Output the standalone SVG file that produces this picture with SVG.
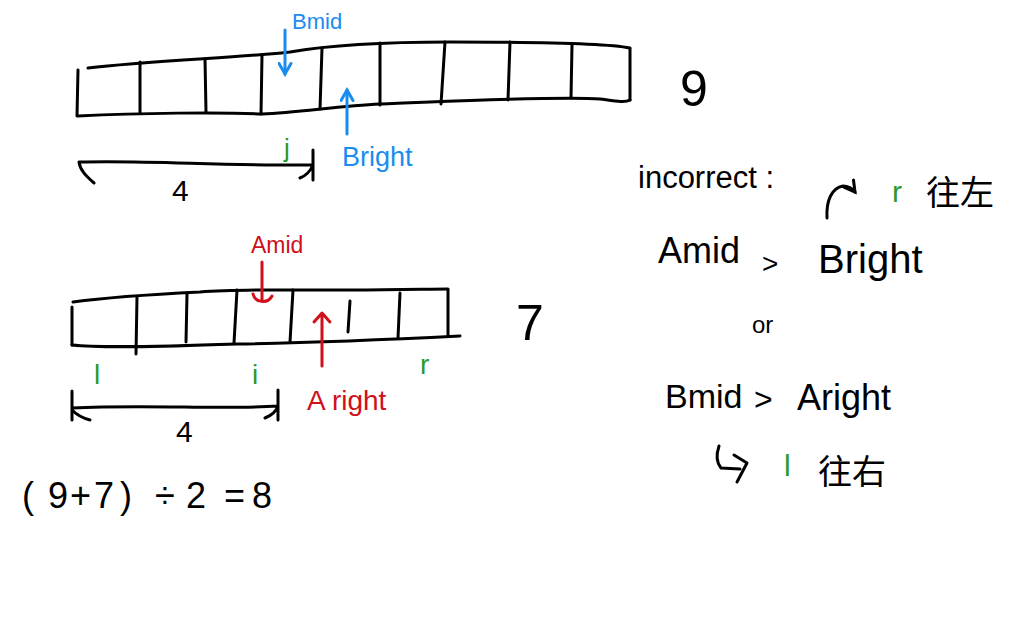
<svg xmlns="http://www.w3.org/2000/svg" width="1024" height="640" viewBox="0 0 1024 640">
<defs>
<style>
.ink{fill:none;stroke:#000;stroke-width:3;stroke-linecap:round;stroke-linejoin:round}
.blue{fill:none;stroke:#1a8cf0;stroke-width:3;stroke-linecap:round;stroke-linejoin:round}
.red{fill:none;stroke:#d0101a;stroke-width:3;stroke-linecap:round;stroke-linejoin:round}
text{font-family:"Liberation Sans","Noto Sans CJK SC",sans-serif}
.tk{fill:#000}
.tb{fill:#1a8cf0}
.tr{fill:#d0101a}
.tg{fill:#2a9a2a}
</style>
<marker id="ab" viewBox="0 0 10 10" refX="8" refY="5" markerWidth="5" markerHeight="5" orient="auto" markerUnits="strokeWidth">
<path d="M1,1 L8,5 L1,9" fill="none" stroke="#1a8cf0" stroke-width="2" stroke-linecap="round"/>
</marker>
<marker id="ak" viewBox="0 0 10 10" refX="8" refY="5" markerWidth="5" markerHeight="5" orient="auto" markerUnits="strokeWidth">
<path d="M1,1 L8,5 L1,9" fill="none" stroke="#000" stroke-width="2" stroke-linecap="round"/>
</marker>
</defs>
<rect width="1024" height="640" fill="#fff"/>

<g id="arrayB">
<path class="ink" d="M88,68 C150,61 250,57 290,52 C330,45 380,42 450,42 C560,42 610,44 630,48"/>
<path class="ink" d="M78,116 C140,113 220,112 262,114 C300,112 340,106 380,104 C460,101 560,96 600,99 C615,101 625,103 630,100"/>
<path class="ink" d="M78,70 L77,116 M140,62 L140,113 M205,59 L206,112 M262,55 L261,114 M322,48 L320,109 M380,43 L380,105 M445,42 L441,104 M510,42 L508,100 M572,45 L571,98 M630,49 L630,100"/>
<text x="680" y="106" font-size="50" class="tk">9</text>
</g>

<g id="arrayA">
<path class="ink" d="M73,302 C110,297 160,294 200,292 C240,289 280,290 350,290 C400,290 430,289 448,289"/>
<path class="ink" d="M72,345 C100,348 150,347 237,344 C300,343 400,339 460,336"/>
<path class="ink" d="M72,307 L72,345 M137,297 L136,354 M187,294 L186,342 M237,290 L234,343 M293,290 L290,342 M350,301 L348,332 M400,293 L398,338 M448,290 L448,336"/>
<text x="516" y="340" font-size="50" class="tk">7</text>
</g>

<g id="labelsB">
<text x="292" y="29" font-size="22" class="tb">Bmid</text>
<text x="342" y="166" font-size="27" class="tb">Bright</text>
<text x="284" y="157" font-size="26" class="tg">j</text>
<text x="172" y="201" font-size="30" class="tk">4</text>
</g>

<g id="labelsA">
<text x="251" y="253" font-size="23" class="tr">Amid</text>
<text x="307" y="410" font-size="28" class="tr">A right</text>
<text x="94" y="384" font-size="28" class="tg">l</text>
<text x="252" y="384" font-size="28" class="tg">i</text>
<text x="420" y="374" font-size="28" class="tg">r</text>
<text x="176" y="442" font-size="30" class="tk">4</text>
</g>

<g id="connectors">
<path class="blue" d="M285,30 L285,74" marker-end="url(#ab)"/>
<path class="blue" d="M347,134 L347,90" marker-end="url(#ab)"/>
<path class="red" d="M262,262 L262,300 M253,294 C255,303 268,304 272,296"/>
<path class="red" d="M322,366 L322,316 M314,322 L322,313 L330,322"/>
<path class="ink" d="M80,162 C150,160 220,166 313,165 M313,150 L313,180 M79,162 C80,170 86,176 94,183 M300,178 C305,176 310,172 313,165"/>
<path class="ink" d="M72,391 L72,420 M72,408 C150,404 220,410 278,406 M278,390 L278,420 M72,410 C76,414 82,418 90,420 M265,418 C270,416 276,412 278,406"/>
<path class="ink" d="M827,218 C826,200 832,188 843,186 C848,186 852,188 855,192" marker-end="url(#ak)"/>
<path class="ink" d="M719,446 C716,455 716,462 721,468 L740,469 M734,455 L747,463 L737,482"/>
</g>

<g id="conditions">
<text x="638" y="188" font-size="31" class="tk">incorrect :</text>
<text x="892" y="202" font-size="30" class="tg">r</text>
<text x="926" y="205" font-size="34" class="tk">往左</text>
<text x="658" y="263" font-size="36" class="tk">Amid</text>
<text x="762" y="273" font-size="28" class="tk">&gt;</text>
<text x="818" y="273" font-size="40" class="tk">Bright</text>
<text x="752" y="333" font-size="24" class="tk">or</text>
<text x="665" y="408" font-size="34" class="tk">Bmid</text>
<text x="754" y="410" font-size="32" class="tk">&gt;</text>
<text x="797" y="410" font-size="36" class="tk">Aright</text>
<text x="784" y="476" font-size="30" class="tg">l</text>
<text x="818" y="484" font-size="34" class="tk">往右</text>
<text y="508" font-size="36" class="tk"><tspan x="22">(</tspan><tspan x="48">9</tspan><tspan x="70">+</tspan><tspan x="94">7</tspan><tspan x="120">)</tspan><tspan x="155">÷</tspan><tspan x="186">2</tspan><tspan x="224">=</tspan><tspan x="252">8</tspan></text>
</g>
</svg>
